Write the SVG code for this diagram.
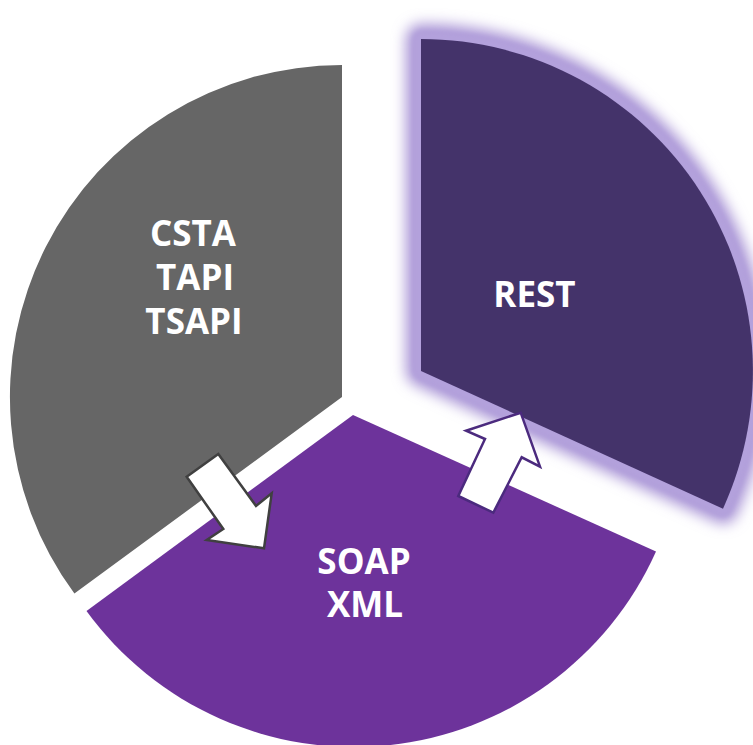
<svg xmlns="http://www.w3.org/2000/svg" width="753" height="745" viewBox="0 0 753 745">
  <defs>
    <filter id="glow" x="-20%" y="-20%" width="140%" height="140%">
      <feGaussianBlur stdDeviation="7"/>
    </filter>
    <filter id="glow-inner" x="-20%" y="-20%" width="140%" height="140%">
      <feGaussianBlur stdDeviation="2.5"/>
    </filter>
  </defs>
  <style>
    .label { font-family: "Open Sans", "DejaVu Sans", sans-serif; font-weight: bold; font-size: 35px; fill: #ffffff; text-anchor: middle; }
    .arrow { fill: #ffffff; stroke-width: 2.5; stroke-linejoin: miter; }
  </style>
  <rect width="753" height="745" fill="#ffffff"/>

  <!-- CSTA / TAPI / TSAPI wedge -->
  <g id="node-csta">
    <path d="M342,397 L342,65 A332,332 0 0 0 74.4,593.6 Z" fill="#666666"/>
    <text class="label" x="193" y="246">CSTA</text>
    <text class="label" x="195" y="290">TAPI</text>
    <text class="label" x="194" y="334">TSAPI</text>
  </g>

  <!-- SOAP / XML wedge -->
  <g id="node-soap">
    <path d="M353,415 L656,551.5 A331,331 0 0 1 86.5,611 Z" fill="#6d339b"/>
    <text class="label" x="364" y="574">SOAP</text>
    <text class="label" x="365" y="617">XML</text>
  </g>

  <!-- REST wedge, highlighted with a soft glow -->
  <g id="node-rest">
    <path d="M421,371 L421,39 A332,332 0 0 1 723,508.7 Z" fill="none" stroke="#a994d6" stroke-width="30" stroke-linejoin="round" filter="url(#glow)"/>
    <path d="M421,371 L421,39 A332,332 0 0 1 723,508.7 Z" fill="none" stroke="#b3a1dc" stroke-width="16" stroke-linejoin="round" filter="url(#glow-inner)"/>
    <path d="M421,371 L421,39 A332,332 0 0 1 723,508.7 Z" fill="#44336a"/>
    <text class="label" x="534.5" y="307">REST</text>
  </g>

  <!-- transition arrows -->
  <g id="connectors">
    <polygon class="arrow" stroke="#404040" points="186.7,476.7 218.3,454 256,506 271.7,493.3 264,548.3 206.7,540 223.3,529"/>
    <polygon class="arrow" stroke="#4b2a7e" points="458.3,496 493.3,512.7 521.7,457.3 540,466.7 520.7,412.7 466,430.7 485,439"/>
  </g>
</svg>
